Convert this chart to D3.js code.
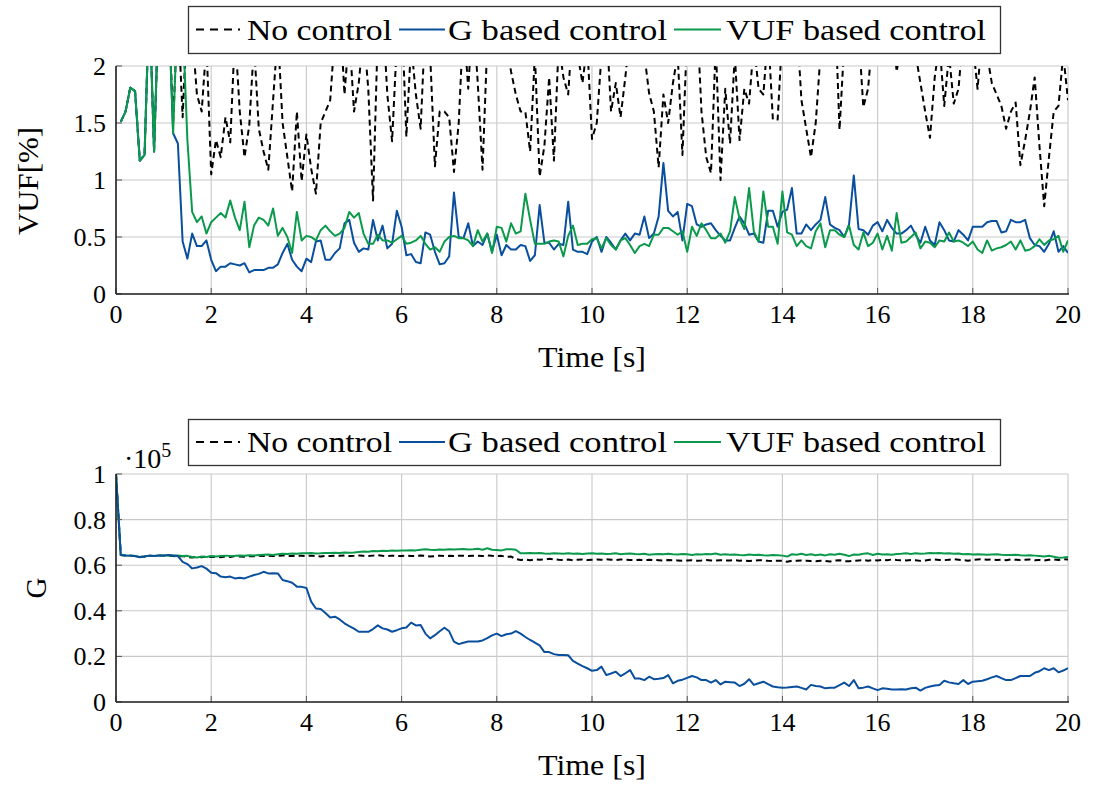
<!DOCTYPE html>
<html><head><meta charset="utf-8">
<script src="https://cdn.jsdelivr.net/npm/d3@7"></script>
<style>
body{margin:0;background:#fff;}
svg text{font-family:"Liberation Serif","Times New Roman",serif;fill:#000;}
</style></head>
<body><svg id="c" width="1093" height="787" font-family="Liberation Serif, serif"></svg>
<script>
// ---------- DATA ----------
const seriesNames = ["No control","G based control","VUF based control"];
const xTicks = [0,2,4,6,8,10,12,14,16,18,20];
const vufTicks = [0,0.5,1,1.5,2];
const gTicks = [0,0.2,0.4,0.6,0.8,1];
const vufTickLabels = ["0","0.5","1","1.5","2"];
const gTickLabels = ["0","0.2","0.4","0.6","0.8","1"];

// VUF [%], samples at t = 0.1 ... 20.0 (step 0.1)
const vufNoControl = [
1.51,1.6,1.81,1.78,1.17,1.22,2.6,1.25,2.6,2.6,
2.6,1.5,2.5,1.55,2.5,2.3,1.75,1.6,2.2,1.05,
1.35,1.2,1.55,1.33,2.3,1.6,1.2,1.48,2.2,1.45,
1.25,1.09,1.7,2.3,1.5,1.2,0.9,1.6,0.99,1.4,
1.1,0.88,1.5,1.6,1.7,2.3,2.5,1.75,2.3,1.6,
1.85,2.3,1.8,0.82,2.3,2.5,1.75,1.34,2.2,2.5,
1.38,2.2,1.75,1.45,2.4,2.1,1.12,1.6,1.6,1.55,
1.07,1.5,2.4,1.8,2.5,1.85,1.09,2.2,2.3,2.5,
2.6,2.2,1.95,1.75,1.6,1.6,1.25,2.1,1.03,1.3,
1.9,1.17,2.2,1.9,1.75,2.4,2.1,1.85,2.2,1.36,
1.5,2.1,2.4,1.6,1.85,1.55,1.9,2.3,2.5,2.2,
2.1,1.76,1.6,1.11,1.75,1.5,1.85,2.1,1.22,2.3,
2.2,2.5,1.6,1.2,1.06,2.2,1.0,1.8,1.32,2.1,
1.35,1.8,1.67,2.2,1.8,1.75,2.3,1.53,1.53,2.3,
2.5,2.2,2.4,1.7,1.45,1.2,1.5,2.1,2.4,2.2,
2.6,1.44,2.2,2.4,2.5,2.3,1.64,1.8,2.3,2.5,
2.6,2.3,2.4,1.95,2.2,2.4,2.5,2.1,1.85,1.6,
1.37,1.9,2.2,1.65,2.1,1.67,1.8,2.3,2.4,2.2,
1.8,2.3,2.1,1.85,1.75,1.65,1.45,1.6,1.68,1.13,
1.35,1.6,1.9,1.3,0.77,1.2,1.6,1.65,2.1,1.7];
const vufGControl = [
1.51,1.6,1.81,1.78,1.17,1.22,2.6,1.25,2.6,2.6,
2.6,1.41,1.32,0.46,0.31,0.53,0.42,0.42,0.47,0.30,
0.20,0.24,0.24,0.27,0.26,0.25,0.27,0.19,0.21,0.21,
0.21,0.23,0.23,0.26,0.36,0.44,0.30,0.24,0.20,0.31,
0.28,0.46,0.47,0.30,0.30,0.36,0.40,0.62,0.65,0.45,
0.37,0.40,0.39,0.65,0.47,0.60,0.40,0.44,0.73,0.59,
0.34,0.35,0.28,0.27,0.54,0.52,0.37,0.26,0.27,0.33,
0.89,0.50,0.49,0.62,0.42,0.46,0.43,0.53,0.37,0.52,
0.34,0.43,0.39,0.39,0.43,0.42,0.29,0.34,0.78,0.45,
0.45,0.39,0.44,0.43,0.81,0.39,0.37,0.37,0.35,0.46,
0.50,0.37,0.50,0.45,0.39,0.47,0.53,0.47,0.53,0.52,
0.68,0.49,0.53,0.68,1.15,0.73,0.68,0.72,0.47,0.79,
0.77,0.61,0.59,0.61,0.62,0.56,0.51,0.47,0.47,0.58,
0.68,0.62,0.52,0.53,0.46,0.45,0.73,0.73,0.59,0.72,
0.74,0.93,0.53,0.53,0.61,0.56,0.61,0.65,0.85,0.61,
0.58,0.56,0.50,0.61,1.04,0.57,0.56,0.52,0.60,0.63,
0.55,0.65,0.58,0.53,0.53,0.56,0.60,0.52,0.45,0.59,
0.47,0.43,0.63,0.56,0.47,0.46,0.56,0.52,0.47,0.59,
0.59,0.59,0.63,0.64,0.64,0.54,0.55,0.65,0.63,0.63,
0.65,0.49,0.43,0.42,0.37,0.44,0.55,0.37,0.42,0.36];
const vufVUFControl = [
1.51,1.6,1.81,1.78,1.17,1.22,2.6,1.25,2.6,2.6,
2.6,1.41,2.6,2.4,1.35,0.72,0.63,0.68,0.53,0.63,
0.67,0.71,0.67,0.82,0.67,0.56,0.81,0.41,0.60,0.67,
0.65,0.60,0.75,0.51,0.58,0.50,0.36,0.72,0.47,0.51,
0.50,0.47,0.56,0.60,0.55,0.51,0.53,0.58,0.72,0.67,
0.71,0.53,0.44,0.44,0.52,0.47,0.47,0.45,0.48,0.51,
0.44,0.45,0.47,0.51,0.44,0.39,0.41,0.37,0.46,0.50,
0.51,0.49,0.49,0.47,0.42,0.56,0.46,0.53,0.36,0.59,
0.58,0.46,0.62,0.53,0.55,0.88,0.65,0.44,0.44,0.44,
0.46,0.47,0.46,0.33,0.51,0.60,0.43,0.44,0.44,0.48,
0.49,0.40,0.49,0.43,0.39,0.47,0.49,0.43,0.36,0.42,
0.44,0.42,0.52,0.52,0.58,0.58,0.55,0.52,0.55,0.37,
0.59,0.51,0.62,0.56,0.49,0.49,0.53,0.45,0.55,0.85,
0.66,0.57,0.93,0.55,0.46,0.90,0.59,0.59,0.44,0.90,
0.54,0.52,0.42,0.47,0.42,0.40,0.55,0.62,0.41,0.56,
0.56,0.52,0.50,0.60,0.43,0.39,0.54,0.42,0.45,0.53,
0.39,0.51,0.38,0.71,0.45,0.46,0.50,0.54,0.40,0.46,
0.45,0.41,0.47,0.46,0.54,0.46,0.47,0.45,0.42,0.46,
0.39,0.36,0.47,0.38,0.40,0.41,0.43,0.46,0.39,0.47,
0.38,0.39,0.42,0.48,0.43,0.47,0.48,0.51,0.37,0.47];

// G (x 10^5), samples at t = 0.0 ... 20.0 (step 0.1)
const gNoControl = [1.0,
0.645,0.643,0.642,0.640,0.636,0.638,0.642,0.640,0.643,0.642,
0.642,0.640,0.638,0.640,0.636,0.634,0.637,0.635,0.638,0.636,
0.637,0.635,0.638,0.636,0.640,0.638,0.637,0.640,0.639,0.641,
0.640,0.642,0.640,0.641,0.643,0.641,0.640,0.642,0.641,0.640,
0.642,0.640,0.638,0.641,0.640,0.642,0.641,0.643,0.640,0.641,
0.643,0.641,0.640,0.642,0.644,0.641,0.640,0.642,0.641,0.640,
0.642,0.640,0.641,0.643,0.641,0.638,0.640,0.642,0.640,0.641,
0.640,0.642,0.641,0.640,0.641,0.642,0.640,0.643,0.641,0.640,
0.641,0.636,0.638,0.627,0.623,0.625,0.622,0.626,0.624,0.625,
0.628,0.626,0.624,0.623,0.625,0.622,0.624,0.625,0.623,0.624,
0.625,0.624,0.626,0.624,0.622,0.625,0.624,0.623,0.622,0.624,
0.621,0.624,0.623,0.622,0.620,0.623,0.622,0.621,0.619,0.621,
0.622,0.620,0.621,0.623,0.621,0.620,0.622,0.620,0.621,0.622,
0.620,0.621,0.618,0.620,0.622,0.621,0.619,0.618,0.620,0.619,
0.615,0.620,0.619,0.621,0.620,0.618,0.617,0.620,0.619,0.616,
0.620,0.622,0.618,0.617,0.619,0.621,0.622,0.620,0.623,0.621,
0.624,0.622,0.625,0.623,0.622,0.621,0.623,0.622,0.619,0.621,
0.624,0.625,0.623,0.622,0.624,0.626,0.624,0.622,0.620,0.623,
0.625,0.626,0.624,0.625,0.623,0.624,0.622,0.625,0.624,0.623,
0.624,0.625,0.622,0.623,0.620,0.624,0.625,0.623,0.626,0.625];
const gGControl = [1.0,
0.645,0.643,0.642,0.640,0.635,0.638,0.642,0.640,0.643,0.642,
0.645,0.643,0.640,0.615,0.605,0.586,0.590,0.596,0.585,0.567,
0.565,0.550,0.547,0.550,0.542,0.545,0.542,0.550,0.557,0.562,
0.571,0.564,0.565,0.564,0.535,0.530,0.523,0.506,0.505,0.500,
0.440,0.410,0.408,0.390,0.371,0.374,0.362,0.345,0.333,0.322,
0.308,0.308,0.308,0.320,0.336,0.323,0.318,0.308,0.315,0.323,
0.327,0.348,0.336,0.338,0.300,0.279,0.293,0.310,0.326,0.310,
0.265,0.254,0.260,0.265,0.265,0.265,0.270,0.280,0.292,0.300,
0.289,0.297,0.300,0.311,0.300,0.285,0.272,0.260,0.248,0.219,
0.219,0.210,0.206,0.206,0.205,0.180,0.168,0.157,0.148,0.137,
0.140,0.155,0.118,0.125,0.133,0.114,0.126,0.140,0.103,0.103,
0.096,0.111,0.100,0.102,0.105,0.118,0.082,0.093,0.098,0.106,
0.114,0.108,0.096,0.096,0.085,0.096,0.077,0.089,0.087,0.085,
0.070,0.080,0.100,0.075,0.082,0.089,0.078,0.068,0.065,0.063,
0.064,0.066,0.068,0.062,0.055,0.075,0.070,0.068,0.060,0.062,
0.063,0.074,0.085,0.070,0.096,0.060,0.063,0.068,0.060,0.052,
0.060,0.058,0.055,0.055,0.056,0.055,0.060,0.063,0.050,0.062,
0.068,0.072,0.075,0.093,0.086,0.082,0.079,0.096,0.079,0.089,
0.091,0.093,0.100,0.108,0.114,0.105,0.096,0.096,0.105,0.114,
0.114,0.114,0.128,0.135,0.148,0.140,0.148,0.130,0.138,0.148];
const gVUFControl = [1.0,
0.645,0.643,0.642,0.640,0.636,0.638,0.642,0.640,0.643,0.642,
0.644,0.642,0.643,0.640,0.641,0.636,0.634,0.638,0.636,0.640,
0.638,0.640,0.642,0.640,0.641,0.643,0.641,0.644,0.643,0.645,
0.646,0.647,0.645,0.648,0.650,0.649,0.651,0.650,0.652,0.652,
0.653,0.651,0.652,0.654,0.653,0.655,0.654,0.656,0.655,0.656,
0.658,0.660,0.659,0.662,0.661,0.663,0.662,0.664,0.663,0.665,
0.664,0.666,0.665,0.668,0.670,0.668,0.667,0.669,0.668,0.670,
0.669,0.670,0.671,0.669,0.670,0.672,0.668,0.674,0.668,0.667,
0.665,0.670,0.670,0.668,0.652,0.652,0.653,0.652,0.654,0.651,
0.650,0.652,0.651,0.650,0.652,0.650,0.651,0.649,0.651,0.652,
0.650,0.651,0.649,0.650,0.652,0.648,0.650,0.651,0.649,0.648,
0.650,0.646,0.648,0.649,0.648,0.650,0.648,0.647,0.649,0.648,
0.645,0.648,0.647,0.649,0.648,0.651,0.646,0.648,0.646,0.647,
0.645,0.644,0.647,0.645,0.646,0.644,0.643,0.645,0.644,0.642,
0.638,0.648,0.646,0.650,0.645,0.648,0.644,0.647,0.643,0.648,
0.646,0.650,0.646,0.640,0.647,0.646,0.650,0.652,0.645,0.650,
0.647,0.648,0.646,0.649,0.650,0.652,0.649,0.652,0.650,0.651,
0.653,0.652,0.653,0.651,0.652,0.650,0.651,0.648,0.649,0.647,
0.648,0.647,0.646,0.647,0.648,0.646,0.645,0.645,0.646,0.644,
0.643,0.644,0.642,0.640,0.638,0.641,0.637,0.633,0.634,0.636];

const timeVUF = vufGControl.map((_, i) => +((i + 1) / 10).toFixed(1));
const timeG = gGControl.map((_, i) => +(i / 10).toFixed(1));

// ---------- STYLE ----------
const colBlack = "#000", colBlue = "#0a4f9d", colGreen = "#0b9a4b";
const svg = d3.select("#c");
const L = 116, R = 1068;
const xScale = d3.scaleLinear().domain([0, 20]).range([L, R]);

function panel(opts) {
  const y = d3.scaleLinear().domain(opts.ydom).range([opts.bottom, opts.top]);
  const g = svg.append("g");
  const cid = "clip" + opts.id;
  svg.append("clipPath").attr("id", cid).append("rect")
    .attr("x", L).attr("y", opts.top).attr("width", R - L).attr("height", opts.bottom - opts.top);
  g.append("g").selectAll("line").data(xTicks).join("line")
    .attr("x1", d => xScale(d)).attr("x2", d => xScale(d)).attr("y1", opts.top).attr("y2", opts.bottom)
    .attr("stroke", "#c9c9c9").attr("stroke-width", 1.1);
  g.append("g").selectAll("line").data(opts.yticks).join("line")
    .attr("x1", L).attr("x2", R).attr("y1", d => y(d)).attr("y2", d => y(d))
    .attr("stroke", "#c9c9c9").attr("stroke-width", 1.1);
  const lg = g.append("g").attr("clip-path", `url(#${cid})`);
  const line = d3.line().x(d => xScale(d[0])).y(d => y(d[1]));
  opts.series.forEach(s => {
    lg.append("path").datum(opts.time.map((t, i) => [t, s.values[i]]))
      .attr("d", line).attr("fill", "none").attr("stroke", s.color)
      .attr("stroke-width", 2).attr("stroke-linejoin", "round")
      .attr("stroke-dasharray", s.dash || null);
  });
  g.append("g").selectAll("line").data(xTicks).join("line")
    .attr("x1", d => xScale(d)).attr("x2", d => xScale(d)).attr("y1", opts.bottom).attr("y2", opts.bottom - 6)
    .attr("stroke", "#555").attr("stroke-width", 1);
  g.append("g").selectAll("line").data(opts.yticks).join("line")
    .attr("x1", L).attr("x2", L + 6).attr("y1", d => y(d)).attr("y2", d => y(d))
    .attr("stroke", "#555").attr("stroke-width", 1);
  g.append("line").attr("x1", L).attr("x2", R + 1).attr("y1", opts.bottom).attr("y2", opts.bottom)
    .attr("stroke", "#222").attr("stroke-width", 1.6);
  g.append("line").attr("x1", L).attr("x2", L).attr("y1", opts.top).attr("y2", opts.bottom)
    .attr("stroke", "#222").attr("stroke-width", 1.6);
  g.append("g").selectAll("text").data(xTicks).join("text")
    .attr("x", d => xScale(d)).attr("y", opts.bottom + 29).attr("text-anchor", "middle")
    .attr("font-size", 26).text(d => d);
  g.append("g").selectAll("text").data(opts.yticks).join("text")
    .attr("x", L - 10).attr("y", d => y(d) + 9).attr("text-anchor", "end")
    .attr("font-size", 26).text((d, i) => opts.ylabels[i]);
  g.append("text").attr("x", (L + R) / 2).attr("y", opts.bottom + 73).attr("text-anchor", "middle")
    .attr("font-size", 29).attr("textLength", 108).attr("lengthAdjust", "spacingAndGlyphs").text("Time [s]");
  return {g, y};
}

const panelTop = panel({id: "a", top: 66, bottom: 294, ydom: [0, 2], yticks: vufTicks, ylabels: vufTickLabels,
  time: timeVUF,
  series: [
    {values: vufNoControl, color: colBlack, dash: "6,4"},
    {values: vufGControl, color: colBlue},
    {values: vufVUFControl, color: colGreen}
  ]});
svg.append("text").attr("transform", "translate(38,181) rotate(-90)").attr("text-anchor", "middle")
  .attr("font-size", 29).attr("textLength", 108).attr("lengthAdjust", "spacingAndGlyphs").text("VUF[%]");

const panelBot = panel({id: "b", top: 474, bottom: 702, ydom: [0, 1], yticks: gTicks, ylabels: gTickLabels,
  time: timeG,
  series: [
    {values: gNoControl, color: colBlack, dash: "6,4"},
    {values: gVUFControl, color: colGreen},
    {values: gGControl, color: colBlue}
  ]});
svg.append("text").attr("transform", "translate(46,588) rotate(-90)").attr("text-anchor", "middle")
  .attr("font-size", 29).text("G");
const sf = svg.append("text").attr("x", 124).attr("y", 468).attr("font-size", 28);
sf.append("tspan").text("·10");
sf.append("tspan").attr("font-size", 20).attr("dy", -11).text("5");

function legend(y0, h) {
  const g = svg.append("g");
  g.append("rect").attr("x", 188.5).attr("y", y0 + 0.5).attr("width", 812).attr("height", h)
    .attr("fill", "#fff").attr("stroke", "#333").attr("stroke-width", 1.3);
  const cy = y0 + h / 2;
  const items = [
    {name: seriesNames[0], color: colBlack, dash: "8,6", x1: 196, x2: 240, tx: 247, tl: 145},
    {name: seriesNames[1], color: colBlue, x1: 399, x2: 445, tx: 448, tl: 219},
    {name: seriesNames[2], color: colGreen, x1: 674, x2: 721, tx: 726, tl: 260}
  ];
  items.forEach(it => {
    g.append("line").attr("x1", it.x1).attr("x2", it.x2).attr("y1", cy).attr("y2", cy)
      .attr("stroke", it.color).attr("stroke-width", 2).attr("stroke-dasharray", it.dash || null);
    g.append("text").attr("x", it.tx).attr("y", cy + 10).attr("font-size", 30)
      .attr("textLength", it.tl).attr("lengthAdjust", "spacingAndGlyphs").text(it.name);
  });
}
legend(6, 47);
legend(419, 46);
</script></body></html>
